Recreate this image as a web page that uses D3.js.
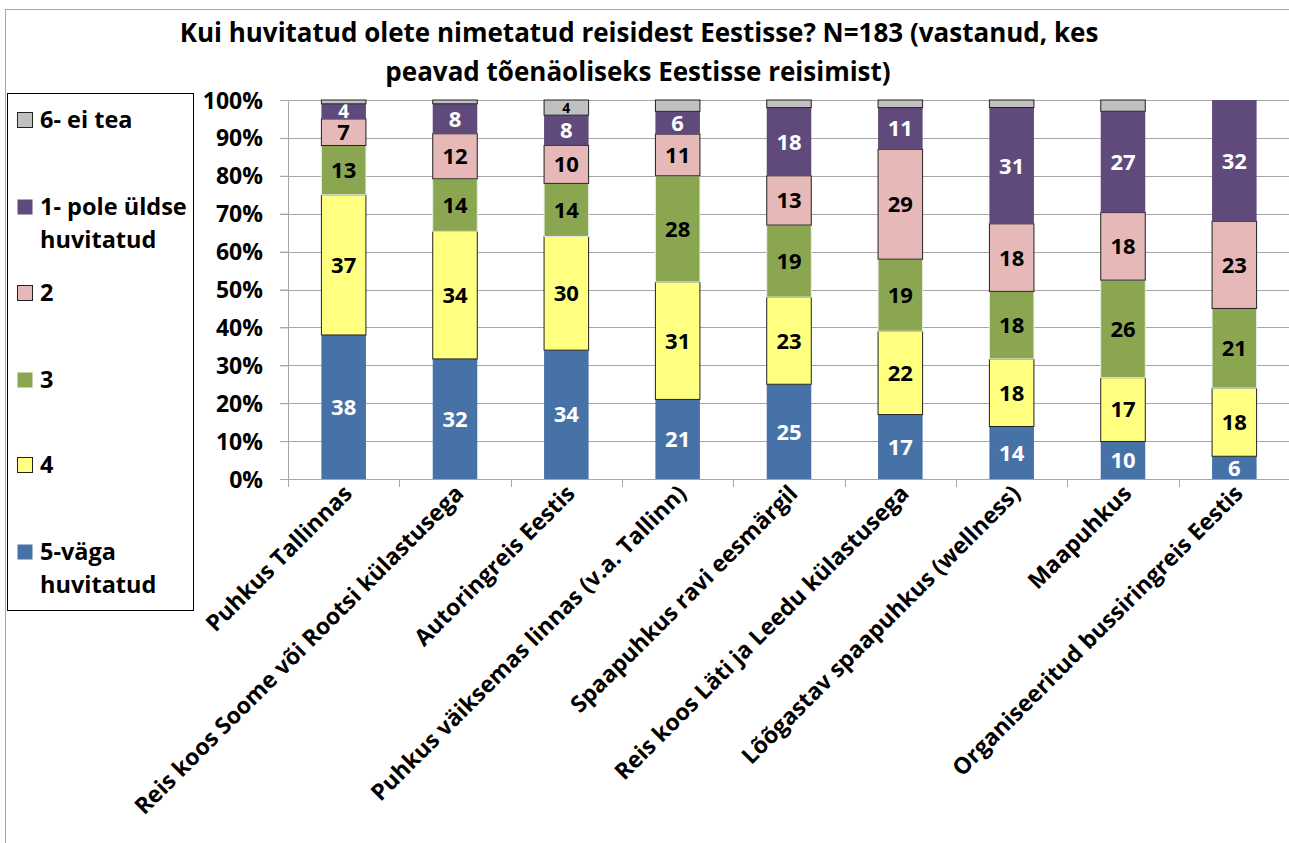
<!DOCTYPE html>
<html>
<head>
<meta charset="utf-8">
<script src="https://cdn.jsdelivr.net/npm/d3@7"></script>
<style>
  body { margin: 0; background: #fff; }
  text { font-family: "Open Sans", sans-serif; font-weight: bold; }
</style>
</head>
<body>
<script>
// categories (travel types)
var categories = [
  "Puhkus Tallinnas",
  "Reis koos Soome või Rootsi külastusega",
  "Autoringreis Eestis",
  "Puhkus väiksemas linnas (v.a. Tallinn)",
  "Spaapuhkus ravi eesmärgil",
  "Reis koos Läti ja Leedu külastusega",
  "Lõõgastav spaapuhkus (wellness)",
  "Maapuhkus",
  "Organiseeritud bussiringreis Eestis"
];

// series values (%), bottom to top
var v5 = [38, 32, 34, 21, 25, 17, 14, 10, 6];
var v4 = [37, 34, 30, 31, 23, 22, 18, 17, 18];
var v3 = [13, 14, 14, 28, 19, 19, 18, 26, 21];
var v2 = [7, 12, 10, 11, 13, 29, 18, 18, 23];
var v1 = [4, 8, 8, 6, 18, 11, 31, 27, 32];
var v6 = [1, 1, 4, 3, 2, 2, 2, 3, 0];

var seriesKeys = ["s5", "s4", "s3", "s2", "s1", "s6"];
var seriesNames = {
  s6: ["6- ei tea"],
  s1: ["1- pole üldse", "huvitatud"],
  s2: ["2"],
  s3: ["3"],
  s4: ["4"],
  s5: ["5-väga", "huvitatud"]
};
var yTicks = [0, 0.1, 0.2, 0.3, 0.4, 0.5, 0.6, 0.7, 0.8, 0.9, 1];

var fill = {s5: "#4672a8", s4: "#ffff80", s3: "#8aa650", s2: "#e6b9b8", s1: "#604a7b", s6: "#c0c0c0"};
var stroke = {s5: "none", s4: "#222", s3: "#e8eee0", s2: "#222", s1: "none", s6: "#222"};
var labelColor = {s5: "#fff", s4: "#000", s3: "#000", s2: "#000", s1: "#fff", s6: "#000"};

var table = categories.map(function(c, i) {
  return {cat: c, s5: v5[i], s4: v4[i], s3: v3[i], s2: v2[i], s1: v1[i], s6: v6[i]};
});

var W = 1289, H = 843;
var margin = {top: 100, left: 288, right: -1, bottom: 364};
var width = W - margin.left - margin.right,
    height = H - margin.top - margin.bottom;

var svg = d3.select("body").append("svg")
    .attr("width", W)
    .attr("height", H);

// outer frame (only top/left edges visible)
svg.append("rect")
    .attr("x", 5.5).attr("y", 9.5)
    .attr("width", 1300).attr("height", 850)
    .attr("fill", "none").attr("stroke", "#a6a6a6");

// title
svg.append("text")
    .attr("x", 639).attr("y", 42)
    .attr("text-anchor", "middle")
    .style("font-size", "26px")
    .text("Kui huvitatud olete nimetatud reisidest Eestisse? N=183 (vastanud, kes");
svg.append("text")
    .attr("x", 638).attr("y", 81)
    .attr("text-anchor", "middle")
    .style("font-size", "26px")
    .text("peavad tõenäoliseks Eestisse reisimist)");

var g = svg.append("g")
    .attr("transform", "translate(" + margin.left + "," + margin.top + ")");

var x = d3.scaleBand().domain(categories).range([0, width]).paddingInner(0.6).paddingOuter(0.3);
var xb = d3.scaleBand().domain(categories).range([0, width]);
var y = d3.scaleLinear().domain([0, 1]).range([height, 0]);

// gridlines
g.selectAll(".grid")
    .data(yTicks.slice(1))
    .enter().append("line")
    .attr("x1", -8).attr("x2", width)
    .attr("y1", function(d) { return Math.round(y(d)) + 0.5; })
    .attr("y2", function(d) { return Math.round(y(d)) + 0.5; })
    .attr("stroke", "#a6a6a6");

// y axis
var yAxis = g.append("g")
    .call(d3.axisLeft(y).tickValues(yTicks).tickFormat(d3.format(".0%")).tickSize(8).tickPadding(17));
yAxis.select(".domain").attr("stroke", "#a6a6a6");
yAxis.selectAll(".tick line").attr("stroke", "#a6a6a6");
yAxis.selectAll("text").style("font-size", "23px").attr("fill", "#000").attr("dy", "0.35em");

// x axis (ticks on band boundaries)
g.append("line")
    .attr("x1", 0).attr("x2", width)
    .attr("y1", height + 0.5).attr("y2", height + 0.5)
    .attr("stroke", "#a6a6a6");
g.selectAll(".xtick")
    .data(categories)
    .enter().append("line")
    .attr("x1", function(d) { return Math.round(xb(d)) + 0.5; })
    .attr("x2", function(d) { return Math.round(xb(d)) + 0.5; })
    .attr("y1", height).attr("y2", height + 8)
    .attr("stroke", "#a6a6a6");

g.selectAll(".xlabel")
    .data(categories)
    .enter().append("text")
    .attr("text-anchor", "end")
    .attr("transform", function(d) {
      return "translate(" + (xb(d) + xb.bandwidth() / 2 + 10) + "," + (height + 16) + ") rotate(-45)";
    })
    .style("font-size", "23px")
    .text(function(d) { return d; });

// stacked bars, normalised to 100%
var stack = d3.stack().keys(seriesKeys).offset(d3.stackOffsetExpand);
var layers = stack(table);

var layer = g.selectAll(".layer")
    .data(layers)
    .enter().append("g")
    .attr("class", "layer");

layer.selectAll("rect")
    .data(function(d) { return d.map(function(p) { return {key: d.key, p: p}; }); })
    .enter().append("rect")
    .attr("x", function(d) { return x(d.p.data.cat); })
    .attr("width", x.bandwidth())
    .attr("y", function(d) { return y(d.p[1]); })
    .attr("height", function(d) { return y(d.p[0]) - y(d.p[1]); })
    .attr("fill", function(d) { return fill[d.key]; })
    .attr("stroke", function(d) { return d.p[1] - d.p[0] > 0 ? stroke[d.key] : "none"; })
    .attr("stroke-width", 1);

// data labels
layer.selectAll(".lbl")
    .data(function(d) {
      return d.map(function(p) { return {key: d.key, p: p, v: p.data[d.key]}; })
        .filter(function(e) { return e.key !== "s6" ? e.v > 0 : e.v >= 4; });
    })
    .enter().append("text")
    .attr("x", function(d) { return x(d.p.data.cat) + x.bandwidth() / 2; })
    .attr("y", function(d) { return (y(d.p[0]) + y(d.p[1])) / 2; })
    .attr("dy", "0.36em")
    .attr("text-anchor", "middle")
    .attr("fill", function(d) { return labelColor[d.key]; })
    .style("font-size", function(d) {
      if (d.key === "s6") return "14px";
      return d.v < 5 ? "19px" : "22px";
    })
    .text(function(d) { return d.v; });

// legend
var legend = svg.append("g");
legend.append("rect")
    .attr("x", 7.5).attr("y", 93.5)
    .attr("width", 186).attr("height", 517)
    .attr("fill", "#fff").attr("stroke", "#000");

var legendOrder = ["s6", "s1", "s2", "s3", "s4", "s5"];
var legendY = [120, 207, 293, 380, 465, 552];

legendOrder.forEach(function(k, i) {
  var yy = legendY[i];
  legend.append("rect")
      .attr("x", 17.5).attr("y", yy - 7.5)
      .attr("width", 15).attr("height", 15)
      .attr("fill", fill[k])
      .attr("stroke", stroke[k] === "#222" ? "#222" : "none");
  seriesNames[k].forEach(function(line, j) {
    legend.append("text")
        .attr("x", 40).attr("y", yy + j * 33)
        .attr("dy", "0.36em")
        .style("font-size", "23.5px")
        .text(line);
  });
});
</script>
</body>
</html>
